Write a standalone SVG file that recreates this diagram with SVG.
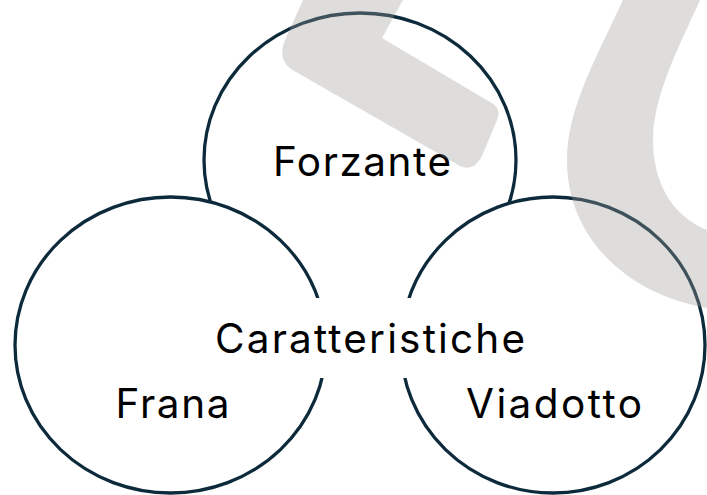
<svg xmlns="http://www.w3.org/2000/svg" width="707" height="495" viewBox="0 0 707 495">
  <style>
    .circ { fill: #ffffff; stroke: #0c2a3b; stroke-width: 3.3; }
    .lbl { font-family: Inter, "Liberation Sans", Arial, sans-serif; font-size: 40.5px; fill: #000000; }
    .mark { fill: #a19e9b; fill-opacity: 0.35; }
  </style>
  <rect x="0" y="0" width="707" height="495" fill="#ffffff"/>
  <g id="node-forzante">
    <ellipse class="circ" cx="360" cy="160" rx="156" ry="147"/>
    <text class="lbl" x="273" y="176" textLength="178" lengthAdjust="spacing">Forzante</text>
  </g>
  <g id="node-frana">
    <ellipse class="circ" cx="170.5" cy="345" rx="155.5" ry="148"/>
  </g>
  <g id="node-viadotto">
    <ellipse class="circ" cx="553" cy="345" rx="152" ry="148"/>
  </g>
  <g id="node-caratteristiche">
    <rect x="200" y="298" width="340" height="80" fill="#ffffff"/>
    <text class="lbl" x="215" y="352.5" textLength="310" lengthAdjust="spacing">Caratteristiche</text>
  </g>
  <g id="labels">
    <text class="lbl" x="115.5" y="418" textLength="114" lengthAdjust="spacing">Frana</text>
    <text class="lbl" x="466" y="418" textLength="176" lengthAdjust="spacing">Viadotto</text>
  </g>
  <g id="connectors"></g>
  <g id="watermark">
    <path class="mark" d="M303,0 L285,40 Q276,62 296,72 L460,166 Q474,172 482,156 L497,120 Q502,108 490,102 L382,38 L403,0 Z"/>
    <path class="mark" d="M623,0 C595,60 567,110 567,160 C567,240 630,295 707,308 L707,230 C670,215 653,180 653,140 C653,95 680,45 700,0 Z"/>
  </g>
</svg>
